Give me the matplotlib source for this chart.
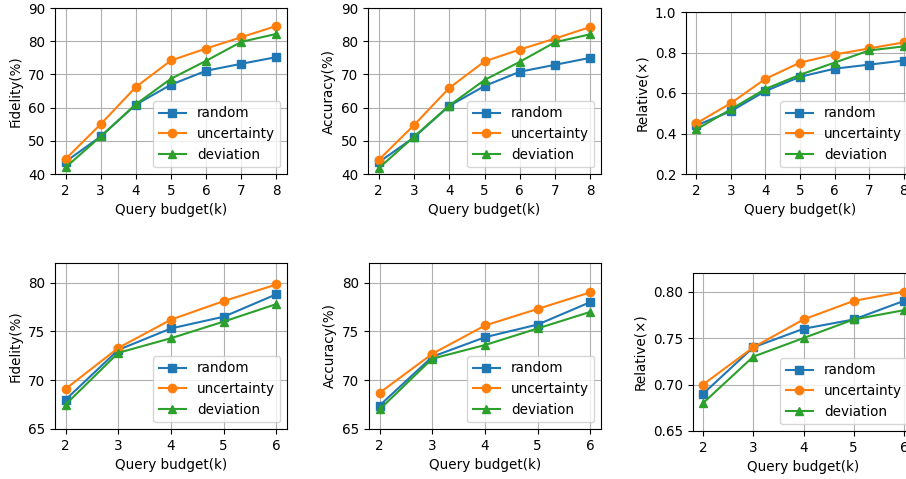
import numpy as np
import matplotlib
matplotlib.use('Agg')
import matplotlib.pyplot as plt

plt.rcParams['font.size'] = 9.75

# 数据
k_top = [2, 3, 4, 5, 6, 7, 8]
k_bot = [2, 3, 4, 5, 6]

fid_top_random = [43.7, 51.3, 60.9, 66.9, 71.1, 73.2, 75.2]
fid_top_unc = [44.5, 55.0, 66.2, 74.2, 77.8, 81.2, 84.6]
fid_top_dev = [42.0, 51.3, 61.0, 68.7, 74.1, 79.8, 82.2]

acc_top_random = [43.5, 51.0, 60.5, 66.5, 70.8, 72.9, 75.0]
acc_top_unc = [44.2, 54.7, 65.9, 73.9, 77.5, 80.8, 84.3]
acc_top_dev = [41.7, 51.2, 60.6, 68.3, 73.8, 79.7, 82.1]

rel_top_random = [0.44, 0.51, 0.61, 0.68, 0.72, 0.74, 0.76]
rel_top_unc = [0.45, 0.55, 0.67, 0.75, 0.79, 0.82, 0.85]
rel_top_dev = [0.42, 0.52, 0.62, 0.69, 0.75, 0.81, 0.83]

fid_bot_random = [68.0, 73.1, 75.3, 76.5, 78.8]
fid_bot_unc = [69.1, 73.3, 76.2, 78.1, 79.8]
fid_bot_dev = [67.5, 72.8, 74.3, 76.0, 77.8]

acc_bot_random = [67.4, 72.4, 74.4, 75.7, 78.0]
acc_bot_unc = [68.7, 72.7, 75.6, 77.3, 79.0]
acc_bot_dev = [67.0, 72.2, 73.6, 75.3, 77.0]

rel_bot_random = [0.69, 0.74, 0.76, 0.77, 0.79]
rel_bot_unc = [0.70, 0.74, 0.77, 0.79, 0.80]
rel_bot_dev = [0.68, 0.73, 0.75, 0.77, 0.78]

W, H = 906, 479
fig = plt.figure(figsize=(W / 100, H / 100), dpi=100)


def add_ax(x0, x1, y0, y1):
    # 像素坐标 -> 图形坐标（y 从上往下）
    return fig.add_axes([x0 / W, 1 - y1 / H, (x1 - x0) / W, (y1 - y0) / H])


def draw(ax, k, r, u, d, ylabel, ylim, yticks):
    ax.plot(k, r, marker='s', color='tab:blue', label='random')
    ax.plot(k, u, marker='o', color='tab:orange', label='uncertainty')
    ax.plot(k, d, marker='^', color='tab:green', label='deviation')
    ax.set_xlabel('Query budget(k)')
    ax.set_ylabel(ylabel)
    ax.set_ylim(*ylim)
    ax.set_yticks(yticks)
    ax.set_xticks(k)
    ax.grid(True)
    ax.legend(loc='lower right')


ax1 = add_ax(55, 287, 8, 174)
draw(ax1, k_top, fid_top_random, fid_top_unc, fid_top_dev, 'Fidelity(%)', (40, 90), [40, 50, 60, 70, 80, 90])
ax2 = add_ax(368, 601, 8, 174)
draw(ax2, k_top, acc_top_random, acc_top_unc, acc_top_dev, 'Accuracy(%)', (40, 90), [40, 50, 60, 70, 80, 90])
ax3 = add_ax(686, 914, 12, 174)
draw(ax3, k_top, rel_top_random, rel_top_unc, rel_top_dev, 'Relative(×)', (0.2, 1.0), [0.2, 0.4, 0.6, 0.8, 1.0])

ax4 = add_ax(55, 287, 263, 429)
draw(ax4, k_bot, fid_bot_random, fid_bot_unc, fid_bot_dev, 'Fidelity(%)', (65, 82), [65, 70, 75, 80])
ax5 = add_ax(369, 601, 263, 429)
draw(ax5, k_bot, acc_bot_random, acc_bot_unc, acc_bot_dev, 'Accuracy(%)', (65, 82), [65, 70, 75, 80])
ax6 = add_ax(693, 914, 273, 431)
draw(ax6, k_bot, rel_bot_random, rel_bot_unc, rel_bot_dev, 'Relative(×)', (0.65, 0.82), [0.65, 0.70, 0.75, 0.80])

fig.savefig('out.png', dpi=100)
